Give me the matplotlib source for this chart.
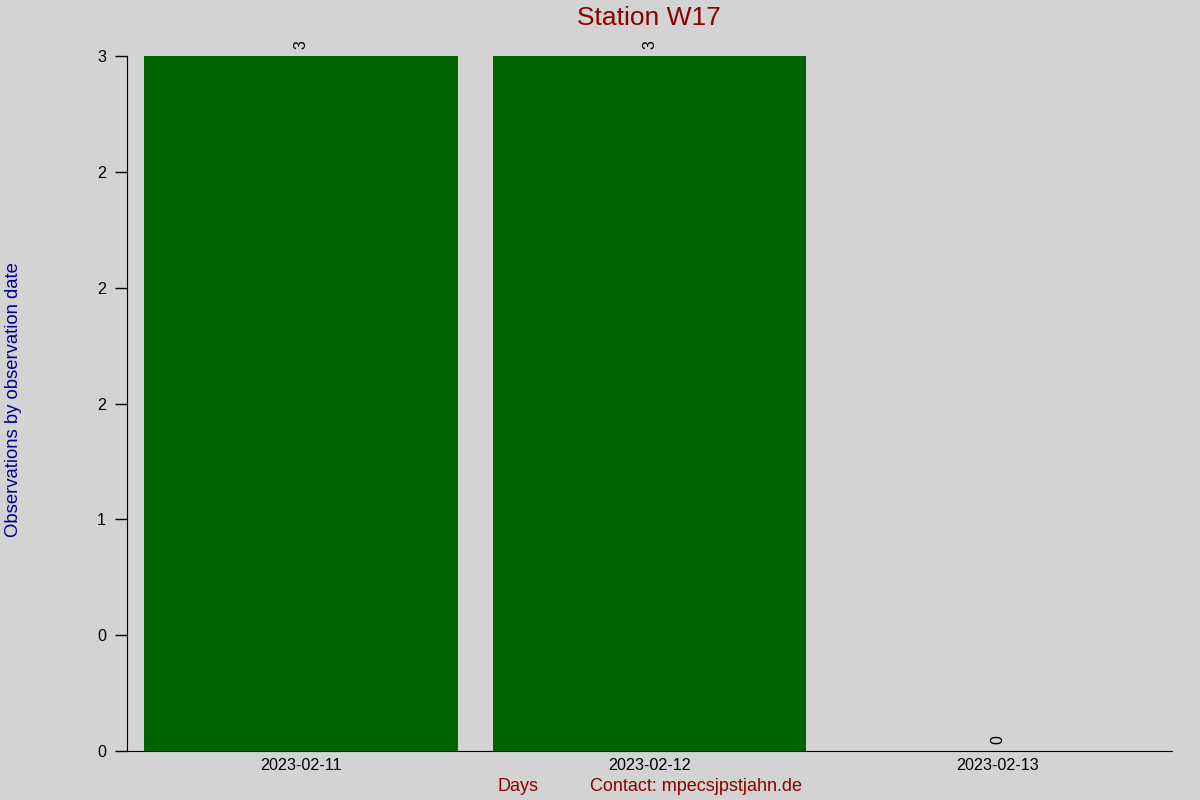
import matplotlib
matplotlib.use("Agg")
import matplotlib.pyplot as plt
from matplotlib.ticker import FormatStrFormatter

days = ["2023-02-11", "2023-02-12", "2023-02-13"]
counts = [3, 3, 0]
yticks = [0, 0.5, 1, 1.5, 2, 2.5, 3]

plt.rcParams['font.family'] = ['Liberation Sans', 'DejaVu Sans']
bg = '#d3d3d3'

fig = plt.figure(figsize=(12, 8), dpi=100, facecolor=bg)
ax = fig.add_axes([0.1058, 0.06125, 0.8709, 0.86875], facecolor=bg)

x = list(range(len(days)))
bars = ax.bar(x, counts, width=0.9, color='#006400')
for xi, c in zip(x, counts):
    ax.annotate(str(c), (xi, c), xytext=(0, 5), textcoords='offset points',
                rotation=90, ha='center', va='bottom', fontsize=11.5, color='black')

ax.set_xlim(-0.5, 2.5)
ax.set_ylim(0, 3)
ax.set_xticks(x)
ax.set_xticklabels(days, fontsize=11.6)
ax.set_yticks(yticks)
ax.yaxis.set_major_formatter(FormatStrFormatter('%.0f'))
ax.tick_params(axis='y', labelsize=11.6, length=9, width=1, pad=6)
ax.tick_params(axis='x', length=0, pad=5)
for s in ['top', 'right']:
    ax.spines[s].set_visible(False)

fig.text(0.541, 1 - 18 / 800, "Station W17", color='#8b0000', fontsize=19, ha='center', va='center')
fig.text(0.0115, 0.5, "Observations by observation date", rotation=90, va='center', ha='center',
         color='#00008b', fontsize=13.3)
fig.text(0.432, 0.017, "Days", color='#8b0000', fontsize=13, ha='center', va='center')
fig.text(0.58, 0.017, "Contact: mpecsjpstjahn.de", color='#8b0000', fontsize=13, ha='center', va='center')

fig.savefig("out.png", dpi=100, facecolor=bg)
